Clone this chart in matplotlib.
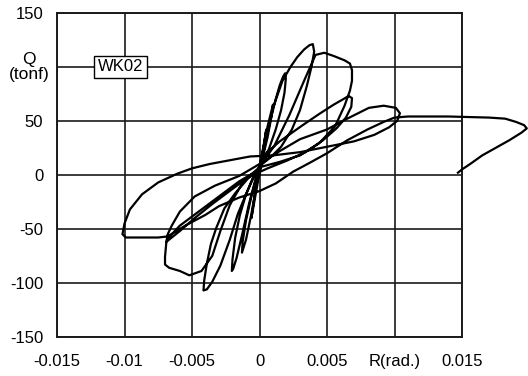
import numpy as np
import matplotlib
matplotlib.use("Agg")
from matplotlib import pyplot as plt

plt.rcParams['font.family'] = ['Liberation Sans', 'DejaVu Sans']
plt.rcParams['axes.unicode_minus'] = False

# hysteresis path, R in 1/1000 rad, Q in tonf
r_c0 = [0, 0.2, 0.45, 0.5, 0.35, 0.0, -0.3, -0.55, -0.6, -0.4, 0.0]
q_c0 = [0, 18, 38, 42, 30, 8, -14, -36, -40, -26, 2]

r_c1 = [0.3, 0.6, 0.9, 1.0, 0.9, 0.6, 0.2, -0.2, -0.6, -1.0, -1.3, -1.25, -1.0, -0.6, -0.2, 0.1]
q_c1 = [25, 45, 60, 65, 55, 35, 14, -8, -36, -60, -72, -62, -42, -20, -2, 8]

r_c2 = [0.4, 0.8, 1.2, 1.5, 1.75, 1.9, 1.95, 1.85, 1.6, 1.2, 0.7, 0.2, -0.3, -0.8, -1.3, -1.7,
        -1.95, -2.05, -2.0, -1.8, -1.45, -1.0, -0.5, 0.0]
q_c2 = [28, 50, 70, 83, 91, 94, 89, 76, 60, 42, 24, 12, -4, -28, -56, -77,
        -87, -89, -78, -58, -37, -18, -4, 8]

r_c3 = [0.4, 1.0, 1.7, 2.3, 2.8, 3.3, 3.7, 3.95, 4.05, 3.85, 3.5, 3.0, 2.4, 1.6, 0.8, 0.2,
        -0.4, -1.0, -1.6, -2.2, -2.9, -3.5, -3.9, -4.15, -4.1, -3.9, -3.6, -3.2, -2.6, -1.8, -0.9, 0.0]
q_c3 = [30, 62, 87, 100, 109, 116, 120, 121, 114, 100, 82, 60, 42, 26, 16, 10,
        0, -18, -36, -60, -84, -99, -106, -107, -98, -82, -64, -49, -31, -17, -4, 6]

r_c4 = [0.15, 1.1, 2.2, 3.3, 4.15, 4.8, 5.5, 6.3, 6.7, 6.85, 6.85, 6.7, 6.3, 5.6, 4.4, 3.0, 1.5, 0.0,
        -1.2, -2.2, -2.9, -3.5, -4.3, -5.2, -5.9, -6.7, -7.0, -7.0, -6.9, -6.5, -5.9, -4.4, -3.0, -1.5, 0.0]
q_c4 = [10, 27, 55, 87, 111, 113, 110, 106, 103, 97, 87, 78, 64, 45, 29, 18, 12, 7,
        -6, -28, -52, -75, -89, -93, -89, -86, -83, -76, -62, -55, -47, -33, -20, -6, 5]

r_c5 = [0.5, 1.5, 3.2, 4.5, 5.5, 6.2, 6.6, 6.85, 6.8, 6.4, 5.7, 4.7, 3.4, 2.0, 0.6,
        -0.8, -2.0, -3.5, -4.8, -5.9, -6.6, -6.9, -6.8, -6.5, -5.9, -4.8, -3.3, -1.5, 0.0]
q_c5 = [20, 31, 46, 57, 65, 70, 73, 71, 63, 53, 43, 32, 21, 13, 6,
        -2, -13, -27, -40, -52, -59, -62, -55, -47, -34, -20, -10, -1, 10]

r_c6 = [1.5, 3.0, 5.0, 6.5, 8.1, 9.2, 10.1, 10.4, 10.2, 9.6, 8.5, 7.0, 5.0, 3.0, 1.0, -0.7, -2.0,
        -3.7, -5.0, -6.1, -7.5, -8.7, -9.6, -10.0, -10.15, -9.9, -8.5, -7.5, -6.8, -5.5, -4.0, -3.0,
        -1.5, 0.0, 1.2, 2.5, 3.7, 5.0, 6.5, 8.0, 9.2, 10.0, 11.0, 12.5, 14.0, 15.5, 17.0, 18.2,
        19.0, 19.6, 19.8, 19.4, 18.5, 17.5, 16.5, 15.6, 15.0, 14.7]
q_c6 = [22, 33, 42, 52, 62, 64, 62, 57, 50, 44, 37, 31, 26, 21, 18, 17, 14,
        10, 6, 1, -7, -18, -32, -45, -55, -58, -58, -58, -57, -47, -37, -29,
        -21, -15, -8, 3, 11, 20, 32, 42, 49, 53, 54, 54, 54, 53.5, 53, 52,
        49, 46, 43, 39, 32, 25, 18, 10, 5, 2]

r_ticks = [-0.015, -0.01, -0.005, 0, 0.005, 0.01, 0.015]
r_labels = ['-0.015', '-0.01', '-0.005', '0', '0.005', 'R(rad.)', '0.015']
q_ticks = [-150, -100, -50, 0, 50, 100, 150]
q_labels = ['-150', '-100', '-50', '0', '50', '', '150']

r = np.array(r_c0 + r_c1 + r_c2 + r_c3 + r_c4 + r_c5 + r_c6) / 1000.0
q = np.array(q_c0 + q_c1 + q_c2 + q_c3 + q_c4 + q_c5 + q_c6)

fig = plt.figure(figsize=(5.28, 3.76), dpi=100)
ax = fig.add_axes([0.108, 0.104, 0.767, 0.862])

ax.plot(r, q, color='black', lw=1.6, clip_on=False, zorder=3, solid_joinstyle='round')

ax.set_xlim(-0.015, 0.015)
ax.set_ylim(-150, 150)
ax.set_xticks(r_ticks)
ax.set_xticklabels(r_labels, fontsize=12)
ax.set_yticks(q_ticks)
ax.set_yticklabels(q_labels, fontsize=12)
ax.tick_params(axis='x', length=0, pad=12)
ax.tick_params(axis='y', length=0, pad=10)
ax.grid(True, color='#1a1a1a', lw=1.2)
for s in ax.spines.values():
    s.set_color('#1a1a1a')
    s.set_linewidth(1.4)

ax.text(-0.069, 100, 'Q\n(tonf)', transform=ax.get_yaxis_transform(), ha='center', va='center',
        fontsize=12.5, linespacing=1.0)
ax.text(-0.0103, 100, 'WK02', ha='center', va='center', fontsize=12, zorder=4,
        bbox=dict(boxstyle='square,pad=0.2', fc='white', ec='black', lw=1.0))

fig.savefig('out.png', dpi=100)
